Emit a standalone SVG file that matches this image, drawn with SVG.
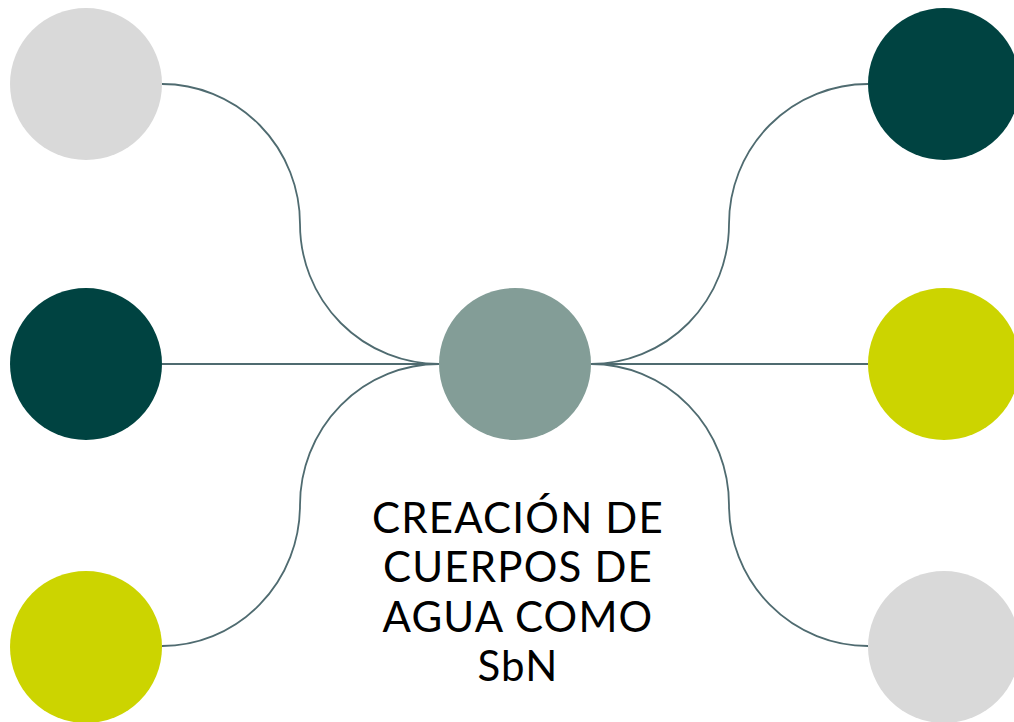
<svg xmlns="http://www.w3.org/2000/svg" width="1014" height="722" viewBox="0 0 1014 722">
<style>
.c{fill:none;stroke:#4f6b70;stroke-width:1.8}
.gray{fill:#d9d9d9}
.dark{fill:#004341}
.lime{fill:#ccd400}
.mid{fill:#839d97}
.t{font-family:Lato,"Noto Sans",sans-serif;font-size:42px;letter-spacing:1.2px;fill:#000;text-anchor:middle}
</style>
<rect width="1014" height="722" fill="#fff"/>
<g id="connectors">
<path class="c" d="M162,84 A138,140 0 0 1 300,224 A139,140 0 0 0 439,364"/>
<path class="c" d="M162,364 L439,364"/>
<path class="c" d="M439,364 A139,141 0 0 0 300,505 A138,141 0 0 1 162,646"/>
<path class="c" d="M591,364 A138,140 0 0 0 729,224 A139,140 0 0 1 868,84"/>
<path class="c" d="M591,364 L868,364"/>
<path class="c" d="M591,364 A138,141 0 0 1 729,505 A139,141 0 0 0 868,646"/>
</g>
<g id="node-tl"><circle class="gray" cx="86" cy="84" r="76"/></g>
<g id="node-ml"><circle class="dark" cx="86" cy="364" r="76"/></g>
<g id="node-bl"><circle class="lime" cx="86" cy="647" r="76"/></g>
<g id="node-center"><circle class="mid" cx="515" cy="364" r="76"/></g>
<g id="node-tr"><circle class="dark" cx="944" cy="84" r="76"/></g>
<g id="node-mr"><circle class="lime" cx="944" cy="364" r="76"/></g>
<g id="node-br"><circle class="gray" cx="944" cy="647" r="76"/></g>
<g id="label">
<text class="t" x="518" y="533">CREACIÓN DE</text>
<text class="t" x="518" y="582">CUERPOS DE</text>
<text class="t" x="518" y="632">AGUA COMO</text>
<text class="t" x="518" y="681">SbN</text>
</g>
</svg>
